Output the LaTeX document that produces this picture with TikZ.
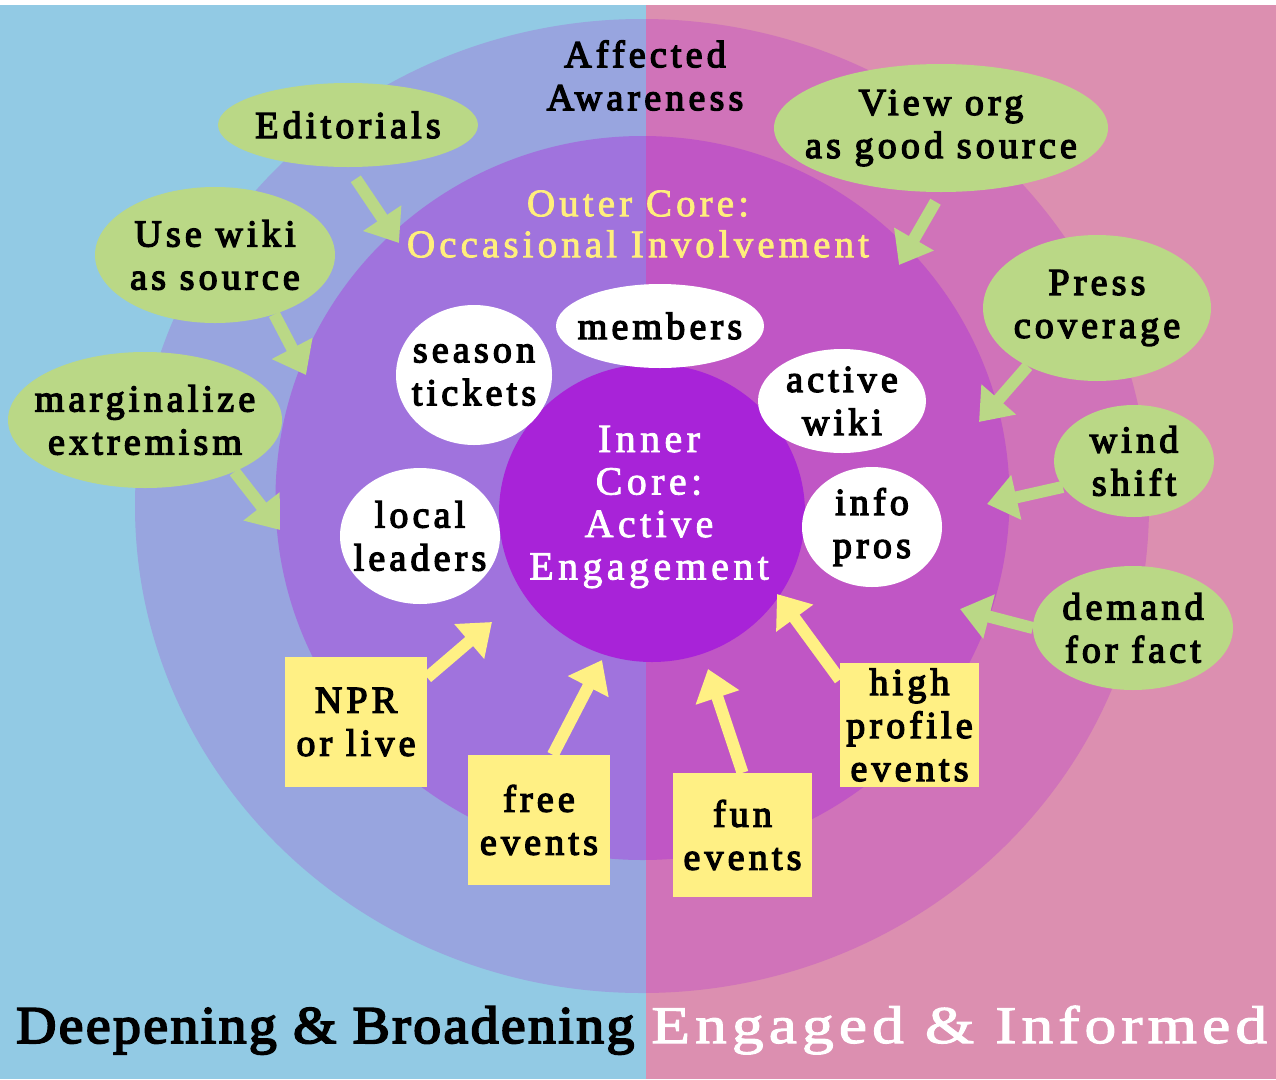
\documentclass[tikz,border=0pt]{standalone}
\usepackage{fontspec}
\setmainfont{Liberation Serif}
\newfontfamily\lsf[LetterSpace=11, FakeBold=3.5]{Liberation Serif}
\newfontfamily\lsl[LetterSpace=11, FakeBold=2]{Liberation Serif}
\usetikzlibrary{arrows.meta,shapes.geometric}
\definecolor{bgL}{HTML}{92CAE4}
\definecolor{bgR}{HTML}{DC8FB0}
\definecolor{oaL}{HTML}{98A5DF}
\definecolor{oaR}{HTML}{D073B9}
\definecolor{ocL}{HTML}{A073DD}
\definecolor{ocR}{HTML}{C056C5}
\definecolor{icore}{HTML}{A823D8}
\definecolor{gr}{HTML}{BAD886}
\definecolor{yel}{HTML}{FFF084}
\definecolor{ytext}{HTML}{FFEF7C}
\begin{document}
\begin{tikzpicture}[x=1pt,y=-1pt,
  lbl/.style={align=center, inner sep=0pt, font=\fontsize{38}{43}\selectfont\lsf},
  gnode/.style={ellipse, inner sep=0pt, fill=gr},
  wnode/.style={ellipse, inner sep=0pt, fill=white},
  ybox/.style={lbl, rectangle, fill=yel},
  garr/.style={draw=gr, line width=12pt, -{Triangle[width=44pt,length=30pt]}},
  yarr/.style={draw=yel, line width=12pt, -{Triangle[width=44pt,length=30pt]}}]
\useasboundingbox (0,0) rectangle (1276,1079);
\fill[white] (0,0) rectangle (1276,1079);
\fill[bgL] (0,5) rectangle (646,1079);
\fill[bgR] (646,5) rectangle (1276,1079);
\begin{scope}
  \clip (0,0) rectangle (646,1079);
  \fill[oaL] (642,506) ellipse [x radius=507, y radius=487];
  \fill[ocL] (642.5,498) ellipse [x radius=367, y radius=362];
\end{scope}
\begin{scope}
  \clip (646,0) rectangle (1276,1079);
  \fill[oaR] (642,506) ellipse [x radius=507, y radius=487];
  \fill[ocR] (642.5,498) ellipse [x radius=367, y radius=362];
\end{scope}
\fill[icore] (652,513) ellipse [x radius=153, y radius=149];

% ring labels
\node[lbl] (aa) at (645,75.5) {Affected\\Awareness};
\node[lbl, text=ytext, font=\fontsize{39}{41}\selectfont\lsl\addfontfeature{LetterSpace=10.5}] (oc) at (638,224) {Outer Core:\\Occasional Involvement};
\node[lbl, text=white, font=\fontsize{40}{42.5}\selectfont\lsl] (ic) at (649,507) {Inner\\Core:\\Active\\Engagement};

% green outside influences
\node[gnode, minimum width=260, minimum height=84] (ed) at (348,125) {};
\node[gnode, minimum width=240, minimum height=136] (uw) at (215,255) {};
\node[gnode, minimum width=274, minimum height=136] (mx) at (145,420) {};
\node[gnode, minimum width=334, minimum height=128] (vo) at (941,128) {};
\node[gnode, minimum width=228, minimum height=146] (pc) at (1097,308) {};
\node[gnode, minimum width=160, minimum height=112] (ws) at (1134,461) {};
\node[gnode, minimum width=200, minimum height=124] (df) at (1133,628) {};
\node[lbl] (edT) at (ed) {Editorials};
\node[lbl] (uwT) at (uw) {Use wiki\\as source};
\node[lbl] (mxT) at (mx) {marginalize\\extremism};
\node[lbl] (voT) at (vo) {View org\\as good source};
\node[lbl] (pcT) at (pc) {Press\\coverage};
\node[lbl] (wsT) at (ws) {wind\\shift};
\node[lbl] (dfT) at (df) {demand\\for fact};

% white members
\node[wnode, minimum width=208, minimum height=84] (mb) at (660,326) {};
\node[wnode, minimum width=156, minimum height=140] (st) at (474,375) {};
\node[wnode, minimum width=168, minimum height=104] (aw) at (842,401) {};
\node[wnode, minimum width=160, minimum height=136] (ll) at (420,536) {};
\node[wnode, minimum width=140, minimum height=120] (ip) at (872,527) {};
\node[lbl] (mbT) at (mb) {members};
\node[lbl] (stT) at (st) {season\\tickets};
\node[lbl] (awT) at (aw) {active\\wiki};
\node[lbl] (llT) at (ll) {local\\leaders};
\node[lbl] (ipT) at (ip) {info\\pros};

% yellow events
\node[ybox, minimum width=142, minimum height=130] (np) at (356,722) {NPR\\or live};
\node[ybox, minimum width=142, minimum height=130] (fe) at (539,820) {free\\events};
\node[ybox, minimum width=139, minimum height=124] (fu) at (742.5,835) {fun\\events};
\node[ybox, minimum width=139, minimum height=124] (hp) at (909.5,725) {high\\profile\\events};

% arrow tips
\coordinate (tEd) at (399,243);
\coordinate (tUw) at (306,375);
\coordinate (tMx) at (280,530);
\coordinate (tVo) at (899,265);
\coordinate (tPc) at (979,422);
\coordinate (tWs) at (987,504);
\coordinate (tDf) at (960,609);
\coordinate (tNp) at (492,622);
\coordinate (tFe) at (602,660);
\coordinate (tFu) at (708,669);
\coordinate (tHp) at (777,594);

\draw[garr, shorten <=14pt] (ed.south) -- (tEd);
\draw[garr] (uw.-45) -- (tUw);
\draw[garr] (mx.-30) -- (tMx);
\draw[garr, shorten <=11pt] (vo.south) -- (tVo);
\draw[garr] (pc.-140) -- (tPc);
\draw[garr] (ws.-160) -- (tWs);
\draw[garr] (df.west) -- (tDf);
\draw[yarr] (np.32) -- (tNp);
\draw[yarr] (fe.78) -- (tFe);
\draw[yarr] (fu.north) -- (tFu);
\draw[yarr] (hp.147) -- (tHp);

% bottom captions
\node[anchor=base west, inner sep=0pt, font=\fontsize{53}{60}\selectfont\lsf\addfontfeature{LetterSpace=4.6,FakeStretch=1.05}] (db) at (16,1043) {Deepening \& Broadening};
\node[anchor=base west, inner sep=0pt, text=white, font=\fontsize{53}{60}\selectfont\lsl\addfontfeature{LetterSpace=9.5,FakeStretch=1.2}] (ei) at (651,1043) {Engaged \& Informed};
\end{tikzpicture}
\end{document}
